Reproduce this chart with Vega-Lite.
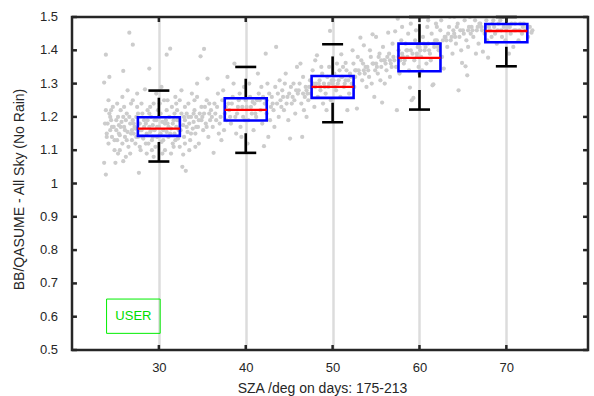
{
  "$schema": "https://vega.github.io/schema/vega-lite/v6.json",
  "width": 526,
  "height": 333,
  "autosize": {"type": "none"},
  "padding": {"left": 67, "top": 17, "right": 1, "bottom": 46},
  "config": {
    "view": {"stroke": null},
    "font": "Liberation Sans",
    "axis": {
      "labelFont": "Liberation Sans", "titleFont": "Liberation Sans",
      "labelFontSize": 13, "titleFontSize": 14, "titleFontWeight": "normal",
      "labelColor": "#262626", "titleColor": "#262626",
      "domain": false, "ticks": false, "tickSize": 0,
      "grid": false, "labelOverlap": false
    }
  },
  "datasets": {
    "xt": [{"v":30},{"v":40},{"v":50},{"v":60},{"v":70}],
    "yt": [{"v":0.5},{"v":0.6},{"v":0.7},{"v":0.8},{"v":0.9},{"v":1.0},{"v":1.1},{"v":1.2},{"v":1.3},{"v":1.4},{"v":1.5}],
    "pts": [
      {"sza":24.0,"r":1.15},{"sza":24.1,"r":1.18},{"sza":24.2,"r":1.12},{"sza":24.3,"r":1.21},{"sza":24.4,"r":1.16},{"sza":24.5,"r":1.19},{"sza":24.6,"r":1.14},{"sza":24.7,"r":1.23},{"sza":24.8,"r":1.17},{"sza":24.9,"r":1.10},{"sza":24.3,"r":1.32},{"sza":23.7,"r":1.303},{"sza":23.9,"r":1.387},{"sza":23.9,"r":1.027},{"sza":23.7,"r":1.062},{"sza":24.2,"r":1.25},
      {"sza":25.0,"r":1.062},{"sza":25.1,"r":1.16},{"sza":25.2,"r":1.13},{"sza":25.3,"r":1.20},{"sza":25.4,"r":1.175},{"sza":25.5,"r":1.145},{"sza":25.6,"r":1.22},{"sza":25.7,"r":1.185},{"sza":25.8,"r":1.12},{"sza":25.9,"r":1.338},{"sza":25.9,"r":1.067},{"sza":25.3,"r":1.09},{"sza":25.8,"r":1.26},
      {"sza":26.0,"r":1.17},{"sza":26.1,"r":1.14},{"sza":26.2,"r":1.19},{"sza":26.3,"r":1.21},{"sza":26.4,"r":1.155},{"sza":26.5,"r":1.11},{"sza":26.6,"r":1.453},{"sza":26.7,"r":1.18},{"sza":26.8,"r":1.24},{"sza":26.9,"r":1.13},{"sza":26.4,"r":1.28},{"sza":26.2,"r":1.08},{"sza":26.9,"r":1.16},
      {"sza":27.0,"r":1.417},{"sza":27.0,"r":1.19},{"sza":27.1,"r":1.15},{"sza":27.2,"r":1.17},{"sza":27.3,"r":1.12},{"sza":27.4,"r":1.20},{"sza":27.5,"r":1.23},{"sza":27.6,"r":1.14},{"sza":27.7,"r":1.032},{"sza":27.8,"r":1.18},{"sza":27.9,"r":1.10},{"sza":27.5,"r":1.27},{"sza":27.3,"r":1.165},
      {"sza":28.0,"r":1.16},{"sza":28.1,"r":1.21},{"sza":28.2,"r":1.135},{"sza":28.4,"r":1.283},{"sza":28.5,"r":1.18},{"sza":28.6,"r":1.15},{"sza":28.7,"r":1.22},{"sza":28.8,"r":1.12},{"sza":28.9,"r":1.345},{"sza":28.3,"r":1.19},{"sza":28.9,"r":1.17},{"sza":28.6,"r":1.09},
      {"sza":29.0,"r":1.155},{"sza":29.1,"r":1.20},{"sza":29.2,"r":1.13},{"sza":29.3,"r":1.175},{"sza":29.4,"r":1.24},{"sza":29.5,"r":1.16},{"sza":29.6,"r":1.11},{"sza":29.7,"r":1.19},{"sza":29.8,"r":1.14},{"sza":29.9,"r":1.22},{"sza":29.4,"r":1.08},{"sza":29.7,"r":1.27},
      {"sza":30.0,"r":1.17},{"sza":30.1,"r":1.145},{"sza":30.2,"r":1.21},{"sza":30.3,"r":1.125},{"sza":30.4,"r":1.185},{"sza":30.5,"r":1.16},{"sza":30.6,"r":1.25},{"sza":30.7,"r":1.10},{"sza":30.9,"r":1.387},{"sza":30.8,"r":1.19},{"sza":30.9,"r":1.155},{"sza":30.3,"r":1.29},
      {"sza":31.0,"r":1.18},{"sza":31.1,"r":1.14},{"sza":31.2,"r":1.20},{"sza":31.3,"r":1.405},{"sza":31.4,"r":1.165},{"sza":31.5,"r":1.23},{"sza":31.6,"r":1.12},{"sza":31.7,"r":1.19},{"sza":31.8,"r":1.15},{"sza":31.9,"r":1.26},{"sza":31.4,"r":1.09},{"sza":31.8,"r":1.21},
      {"sza":32.0,"r":1.17},{"sza":32.1,"r":1.22},{"sza":32.2,"r":1.135},{"sza":32.3,"r":1.19},{"sza":32.4,"r":1.25},{"sza":32.5,"r":1.16},{"sza":32.6,"r":1.28},{"sza":32.7,"r":1.05},{"sza":32.8,"r":1.087},{"sza":32.9,"r":1.20},{"sza":32.4,"r":1.11},{"sza":32.8,"r":1.175},
      {"sza":33.0,"r":1.19},{"sza":33.1,"r":1.038},{"sza":33.2,"r":1.21},{"sza":33.3,"r":1.155},{"sza":33.4,"r":1.24},{"sza":33.5,"r":1.18},{"sza":33.6,"r":1.13},{"sza":33.7,"r":1.20},{"sza":33.8,"r":1.27},{"sza":33.9,"r":1.165},{"sza":33.5,"r":1.10},
      {"sza":34.0,"r":1.185},{"sza":34.1,"r":1.22},{"sza":34.2,"r":1.15},{"sza":34.3,"r":1.20},{"sza":34.4,"r":1.26},{"sza":34.5,"r":1.17},{"sza":34.6,"r":1.12},{"sza":34.8,"r":1.382},{"sza":34.7,"r":1.21},{"sza":34.9,"r":1.19},{"sza":34.4,"r":1.30},
      {"sza":35.0,"r":1.20},{"sza":35.2,"r":1.404},{"sza":35.1,"r":1.16},{"sza":35.3,"r":1.23},{"sza":35.4,"r":1.18},{"sza":35.6,"r":1.315},{"sza":35.5,"r":1.25},{"sza":35.7,"r":1.14},{"sza":35.8,"r":1.21},{"sza":35.9,"r":1.19},
      {"sza":24.4,"r":1.20},{"sza":24.6,"r":1.17},{"sza":24.9,"r":1.13},{"sza":25.1,"r":1.19},{"sza":25.4,"r":1.15},{"sza":25.6,"r":1.17},{"sza":25.9,"r":1.20},{"sza":26.1,"r":1.16},{"sza":26.3,"r":1.13},{"sza":26.6,"r":1.20},{"sza":26.8,"r":1.15},{"sza":27.1,"r":1.18},{"sza":27.4,"r":1.14},{"sza":27.6,"r":1.21},{"sza":27.9,"r":1.16},{"sza":28.1,"r":1.14},{"sza":28.3,"r":1.17},{"sza":28.5,"r":1.12},{"sza":28.7,"r":1.19},{"sza":28.9,"r":1.21},{"sza":29.1,"r":1.16},{"sza":29.3,"r":1.14},{"sza":29.5,"r":1.19},{"sza":29.8,"r":1.17},{"sza":30.0,"r":1.20},{"sza":30.2,"r":1.15},{"sza":30.5,"r":1.13},{"sza":30.7,"r":1.18},{"sza":30.9,"r":1.22},{"sza":31.1,"r":1.17},{"sza":31.3,"r":1.15},{"sza":31.6,"r":1.18},{"sza":31.9,"r":1.13},{"sza":32.1,"r":1.19},{"sza":32.3,"r":1.16},{"sza":32.6,"r":1.21},{"sza":32.9,"r":1.14},{"sza":33.2,"r":1.17},{"sza":33.4,"r":1.20},{"sza":33.7,"r":1.15},{"sza":34.0,"r":1.21},{"sza":34.3,"r":1.17},{"sza":34.6,"r":1.19},{"sza":34.9,"r":1.23},{"sza":35.2,"r":1.21},{"sza":35.5,"r":1.17},{"sza":35.8,"r":1.24},
      {"sza":24.5,"r":1.22},{"sza":25.2,"r":1.24},{"sza":26.0,"r":1.23},{"sza":27.0,"r":1.25},{"sza":28.0,"r":1.24},{"sza":29.0,"r":1.23},{"sza":30.1,"r":1.24},{"sza":31.0,"r":1.25},{"sza":32.0,"r":1.24},{"sza":33.0,"r":1.23},{"sza":34.1,"r":1.25},{"sza":25.5,"r":1.10},{"sza":26.7,"r":1.09},{"sza":27.8,"r":1.11},{"sza":29.2,"r":1.10},{"sza":30.4,"r":1.09},{"sza":31.7,"r":1.11},{"sza":33.0,"r":1.12},{"sza":34.2,"r":1.11},{"sza":23.8,"r":1.18},{"sza":23.9,"r":1.22},{"sza":24.0,"r":1.14},
      {"sza":36.0,"r":1.22},{"sza":36.2,"r":1.17},{"sza":36.3,"r":1.092},{"sza":36.4,"r":1.24},{"sza":36.6,"r":1.19},{"sza":36.8,"r":1.27},{"sza":36.9,"r":1.15},{"sza":36.5,"r":1.21},
      {"sza":37.1,"r":1.20},{"sza":37.3,"r":1.25},{"sza":37.5,"r":1.16},{"sza":37.7,"r":1.23},{"sza":37.9,"r":1.32},{"sza":37.8,"r":1.19},{"sza":37.4,"r":1.28},{"sza":37.2,"r":1.13},
      {"sza":38.1,"r":1.22},{"sza":38.3,"r":1.18},{"sza":38.5,"r":1.26},{"sza":38.7,"r":1.36},{"sza":38.8,"r":1.20},{"sza":38.9,"r":1.15},{"sza":38.4,"r":1.24},{"sza":38.6,"r":1.30},
      {"sza":39.0,"r":1.21},{"sza":39.2,"r":1.25},{"sza":39.4,"r":1.17},{"sza":39.6,"r":1.23},{"sza":39.8,"r":1.29},{"sza":39.9,"r":1.19},{"sza":39.5,"r":1.14},{"sza":39.3,"r":1.27},
      {"sza":40.1,"r":1.23},{"sza":40.3,"r":1.19},{"sza":40.5,"r":1.26},{"sza":40.7,"r":1.21},{"sza":40.9,"r":1.16},{"sza":40.4,"r":1.30},{"sza":40.8,"r":1.245},{"sza":40.2,"r":1.12},
      {"sza":41.0,"r":1.24},{"sza":41.2,"r":1.20},{"sza":41.4,"r":1.33},{"sza":41.5,"r":1.27},{"sza":41.7,"r":1.22},{"sza":41.9,"r":1.18},{"sza":41.3,"r":1.25},{"sza":41.8,"r":1.29},
      {"sza":42.1,"r":1.112},{"sza":42.3,"r":1.39},{"sza":42.6,"r":1.14},{"sza":42.2,"r":1.24},{"sza":42.4,"r":1.21},{"sza":42.7,"r":1.27},{"sza":42.9,"r":1.23},{"sza":42.5,"r":1.30},{"sza":42.8,"r":1.19},
      {"sza":43.0,"r":1.26},{"sza":43.2,"r":1.22},{"sza":43.5,"r":1.41},{"sza":43.4,"r":1.29},{"sza":43.6,"r":1.24},{"sza":43.8,"r":1.20},{"sza":43.9,"r":1.31},{"sza":43.3,"r":1.17},
      {"sza":44.0,"r":1.25},{"sza":44.2,"r":1.28},{"sza":44.4,"r":1.22},{"sza":44.6,"r":1.33},{"sza":44.8,"r":1.26},{"sza":44.9,"r":1.19},{"sza":44.5,"r":1.30},{"sza":44.1,"r":1.23},
      {"sza":45.1,"r":1.135},{"sza":45.0,"r":1.27},{"sza":45.3,"r":1.24},{"sza":45.5,"r":1.30},{"sza":45.7,"r":1.21},{"sza":45.8,"r":1.28},{"sza":45.9,"r":1.35},{"sza":45.4,"r":1.26},
      {"sza":36.1,"r":1.20},{"sza":36.7,"r":1.23},{"sza":37.0,"r":1.18},{"sza":37.6,"r":1.21},{"sza":38.0,"r":1.24},{"sza":38.2,"r":1.20},{"sza":39.1,"r":1.23},{"sza":39.7,"r":1.20},{"sza":40.0,"r":1.25},{"sza":40.6,"r":1.23},{"sza":41.1,"r":1.21},{"sza":41.6,"r":1.25},{"sza":42.0,"r":1.26},{"sza":42.4,"r":1.25},{"sza":43.1,"r":1.24},{"sza":43.7,"r":1.27},{"sza":44.3,"r":1.26},{"sza":44.7,"r":1.24},{"sza":45.2,"r":1.29},{"sza":45.6,"r":1.25},
      {"sza":46.0,"r":1.27},{"sza":46.2,"r":1.30},{"sza":46.5,"r":1.14},{"sza":46.4,"r":1.24},{"sza":46.6,"r":1.32},{"sza":46.8,"r":1.26},{"sza":46.9,"r":1.29},{"sza":46.3,"r":1.36},{"sza":46.7,"r":1.22},
      {"sza":47.0,"r":1.28},{"sza":47.2,"r":1.25},{"sza":47.4,"r":1.31},{"sza":47.5,"r":1.27},{"sza":47.7,"r":1.34},{"sza":47.9,"r":1.23},{"sza":47.3,"r":1.29},{"sza":47.8,"r":1.30},
      {"sza":48.0,"r":1.29},{"sza":48.2,"r":1.385},{"sza":48.3,"r":1.26},{"sza":48.5,"r":1.31},{"sza":48.6,"r":1.28},{"sza":48.8,"r":1.33},{"sza":48.9,"r":1.24},{"sza":48.4,"r":1.30},{"sza":48.7,"r":1.35},
      {"sza":49.0,"r":1.30},{"sza":49.2,"r":1.27},{"sza":49.4,"r":1.32},{"sza":49.5,"r":1.29},{"sza":49.7,"r":1.458},{"sza":49.6,"r":1.35},{"sza":49.8,"r":1.25},{"sza":49.9,"r":1.31},{"sza":49.3,"r":1.22},
      {"sza":50.0,"r":1.30},{"sza":50.2,"r":1.33},{"sza":50.4,"r":1.28},{"sza":50.5,"r":1.36},{"sza":50.7,"r":1.31},{"sza":50.9,"r":1.26},{"sza":51.0,"r":1.388},{"sza":50.8,"r":1.34},{"sza":50.3,"r":1.29},
      {"sza":51.1,"r":1.32},{"sza":51.3,"r":1.29},{"sza":51.5,"r":1.362},{"sza":51.7,"r":1.22},{"sza":51.6,"r":1.34},{"sza":51.8,"r":1.31},{"sza":51.9,"r":1.27},{"sza":51.4,"r":1.30},{"sza":51.2,"r":1.35},
      {"sza":52.0,"r":1.33},{"sza":52.2,"r":1.30},{"sza":52.4,"r":1.36},{"sza":52.6,"r":1.32},{"sza":52.8,"r":1.225},{"sza":52.9,"r":1.38},{"sza":52.5,"r":1.29},{"sza":52.7,"r":1.34},{"sza":52.3,"r":1.40},
      {"sza":53.0,"r":1.34},{"sza":53.2,"r":1.438},{"sza":53.4,"r":1.31},{"sza":53.6,"r":1.415},{"sza":53.5,"r":1.36},{"sza":53.7,"r":1.33},{"sza":53.9,"r":1.29},{"sza":53.3,"r":1.37},{"sza":53.8,"r":1.35},
      {"sza":54.0,"r":1.35},{"sza":54.2,"r":1.32},{"sza":54.4,"r":1.38},{"sza":54.6,"r":1.448},{"sza":54.8,"r":1.26},{"sza":54.7,"r":1.36},{"sza":54.9,"r":1.34},{"sza":54.5,"r":1.30},{"sza":54.3,"r":1.40},
      {"sza":55.0,"r":1.36},{"sza":55.2,"r":1.33},{"sza":55.4,"r":1.39},{"sza":55.7,"r":1.243},{"sza":55.6,"r":1.35},{"sza":55.8,"r":1.41},{"sza":55.9,"r":1.37},{"sza":55.5,"r":1.31},{"sza":55.3,"r":1.38},
      {"sza":56.0,"r":1.37},{"sza":56.2,"r":1.34},{"sza":56.4,"r":1.453},{"sza":56.5,"r":1.39},{"sza":56.7,"r":1.36},{"sza":56.9,"r":1.42},{"sza":56.6,"r":1.32},{"sza":56.3,"r":1.38},{"sza":56.8,"r":1.35},
      {"sza":57.0,"r":1.38},{"sza":57.2,"r":1.457},{"sza":57.4,"r":1.22},{"sza":57.5,"r":1.495},{"sza":57.3,"r":1.35},{"sza":57.6,"r":1.40},{"sza":57.8,"r":1.37},{"sza":57.9,"r":1.43},{"sza":57.7,"r":1.33},
      {"sza":58.0,"r":1.39},{"sza":58.2,"r":1.36},{"sza":58.4,"r":1.42},{"sza":58.6,"r":1.38},{"sza":58.9,"r":1.288},{"sza":58.7,"r":1.45},{"sza":58.8,"r":1.34},{"sza":58.5,"r":1.40},{"sza":58.3,"r":1.37},
      {"sza":59.1,"r":1.25},{"sza":59.3,"r":1.257},{"sza":59.0,"r":1.40},{"sza":59.4,"r":1.37},{"sza":59.5,"r":1.43},{"sza":59.7,"r":1.39},{"sza":59.9,"r":1.35},{"sza":59.6,"r":1.46},{"sza":59.8,"r":1.41},
      {"sza":60.0,"r":1.41},{"sza":60.2,"r":1.38},{"sza":60.4,"r":1.44},{"sza":60.6,"r":1.40},{"sza":60.8,"r":1.36},{"sza":60.9,"r":1.47},{"sza":60.5,"r":1.42},{"sza":60.3,"r":1.34},
      {"sza":61.0,"r":1.42},{"sza":61.2,"r":1.39},{"sza":61.5,"r":1.295},{"sza":61.6,"r":1.298},{"sza":61.4,"r":1.45},{"sza":61.7,"r":1.41},{"sza":61.9,"r":1.48},{"sza":61.3,"r":1.37},{"sza":61.8,"r":1.43},
      {"sza":62.0,"r":1.43},{"sza":62.2,"r":1.40},{"sza":62.4,"r":1.46},{"sza":62.6,"r":1.38},{"sza":62.8,"r":1.345},{"sza":62.9,"r":1.44},{"sza":62.5,"r":1.49},{"sza":62.3,"r":1.42},
      {"sza":63.0,"r":1.44},{"sza":63.2,"r":1.41},{"sza":63.4,"r":1.47},{"sza":63.6,"r":1.43},{"sza":63.8,"r":1.39},{"sza":63.9,"r":1.46},{"sza":63.5,"r":1.50},{"sza":63.3,"r":1.45},
      {"sza":64.0,"r":1.45},{"sza":64.2,"r":1.42},{"sza":64.5,"r":1.28},{"sza":64.9,"r":1.362},{"sza":64.4,"r":1.48},{"sza":64.6,"r":1.44},{"sza":64.8,"r":1.40},{"sza":64.3,"r":1.47},
      {"sza":65.0,"r":1.46},{"sza":65.3,"r":1.352},{"sza":65.5,"r":1.325},{"sza":65.2,"r":1.49},{"sza":65.4,"r":1.43},{"sza":65.7,"r":1.47},{"sza":65.9,"r":1.45},{"sza":65.6,"r":1.41},{"sza":65.8,"r":1.50},
      {"sza":66.0,"r":1.47},{"sza":66.2,"r":1.44},{"sza":66.4,"r":1.49},{"sza":66.6,"r":1.46},{"sza":66.8,"r":1.42},{"sza":66.9,"r":1.48},{"sza":66.5,"r":1.39},
      {"sza":67.0,"r":1.48},{"sza":67.3,"r":1.396},{"sza":67.5,"r":1.45},{"sza":67.7,"r":1.49},{"sza":67.9,"r":1.378},{"sza":67.2,"r":1.46},{"sza":67.8,"r":1.43},
      {"sza":68.0,"r":1.47},{"sza":68.3,"r":1.44},{"sza":68.5,"r":1.49},{"sza":68.7,"r":1.45},{"sza":68.9,"r":1.42},{"sza":68.4,"r":1.48},
      {"sza":69.0,"r":1.46},{"sza":69.3,"r":1.49},{"sza":69.5,"r":1.44},{"sza":69.7,"r":1.47},{"sza":69.9,"r":1.43},{"sza":69.6,"r":1.50},
      {"sza":70.1,"r":1.47},{"sza":70.3,"r":1.39},{"sza":70.5,"r":1.45},{"sza":70.8,"r":1.41},{"sza":70.6,"r":1.48},{"sza":70.9,"r":1.46},
      {"sza":71.1,"r":1.46},{"sza":71.4,"r":1.43},{"sza":71.6,"r":1.48},{"sza":71.8,"r":1.45},{"sza":71.9,"r":1.47},
      {"sza":72.2,"r":1.46},{"sza":72.5,"r":1.44},{"sza":72.9,"r":1.453},{"sza":72.7,"r":1.47},
      {"sza":46.1,"r":1.28},{"sza":46.6,"r":1.27},{"sza":47.1,"r":1.27},{"sza":47.6,"r":1.29},{"sza":48.1,"r":1.30},{"sza":48.6,"r":1.29},{"sza":49.1,"r":1.29},{"sza":49.6,"r":1.30},{"sza":50.1,"r":1.31},{"sza":50.6,"r":1.30},{"sza":51.0,"r":1.32},{"sza":51.5,"r":1.31},{"sza":52.1,"r":1.32},{"sza":52.6,"r":1.34},{"sza":53.1,"r":1.33},{"sza":53.6,"r":1.34},{"sza":54.1,"r":1.34},{"sza":54.6,"r":1.36},{"sza":55.1,"r":1.35},{"sza":55.6,"r":1.37},{"sza":56.1,"r":1.36},{"sza":56.6,"r":1.37},{"sza":57.1,"r":1.37},{"sza":57.6,"r":1.38},{"sza":58.1,"r":1.38},{"sza":58.6,"r":1.40},{"sza":59.2,"r":1.39},{"sza":59.7,"r":1.38},{"sza":60.1,"r":1.40},{"sza":60.7,"r":1.41},{"sza":61.1,"r":1.40},{"sza":61.6,"r":1.42},{"sza":62.1,"r":1.41},{"sza":62.7,"r":1.43},{"sza":63.1,"r":1.43},{"sza":63.7,"r":1.44},{"sza":64.1,"r":1.44},{"sza":64.7,"r":1.46},{"sza":65.1,"r":1.45},{"sza":65.6,"r":1.46},{"sza":66.1,"r":1.46},{"sza":66.7,"r":1.47},{"sza":67.1,"r":1.47},{"sza":67.6,"r":1.47},{"sza":68.1,"r":1.46},{"sza":68.6,"r":1.47},{"sza":69.1,"r":1.48},{"sza":69.4,"r":1.46},{"sza":70.0,"r":1.46},{"sza":70.4,"r":1.47},{"sza":71.0,"r":1.48},{"sza":71.5,"r":1.46},{"sza":72.0,"r":1.48},{"sza":72.4,"r":1.47},{"sza":73.0,"r":1.46},
      {"sza":47.0,"r":1.20},{"sza":48.0,"r":1.37},{"sza":55.0,"r":1.44},{"sza":56.0,"r":1.30},{"sza":60.0,"r":1.33},{"sza":62.0,"r":1.47},{"sza":58.0,"r":1.47},{"sza":59.0,"r":1.48},{"sza":61.0,"r":1.49},{"sza":64.0,"r":1.50}
    ],
    "boxes": [
      {"sza":30,"q1":1.143,"q3":1.199,"med":1.165,"lo":1.066,"hi":1.279},
      {"sza":40,"q1":1.189,"q3":1.256,"med":1.221,"lo":1.092,"hi":1.350},
      {"sza":50,"q1":1.257,"q3":1.323,"med":1.290,"lo":1.184,"hi":1.418},
      {"sza":60,"q1":1.337,"q3":1.420,"med":1.377,"lo":1.222,"hi":1.500},
      {"sza":70,"q1":1.424,"q3":1.479,"med":1.458,"lo":1.352,"hi":1.500}
    ]
  },
  "layer": [
    {
      "data": {"name": "pts"},
      "mark": {"type": "circle", "size": 18, "color": "#cccccc", "opacity": 1, "clip": true},
      "encoding": {
        "x": {"field": "sza", "type": "quantitative", "scale": {"domain": [20, 79.4], "nice": false, "zero": false},
          "axis": {"values": [30, 40, 50, 60, 70], "format": "d", "grid": true, "gridColor": "#dcdcdc", "gridWidth": 2.5, "labelOverlap": false,
            "labelPadding": 11, "title": "SZA /deg on days: 175-213", "titleX": 255, "titleY": 31, "titleAlign": "center", "titleBaseline": "top"}},
        "y": {"field": "r", "type": "quantitative", "scale": {"domain": [0.5, 1.5], "nice": false, "zero": false},
          "axis": {"values": [0.5, 0.6, 0.7, 0.8, 0.9, 1, 1.1, 1.2, 1.3, 1.4, 1.5], "labels": false,
            "title": "BB/QASUME - All Sky (No Rain)", "titleX": -41, "titleY": 172, "titleAlign": "center", "titleBaseline": "bottom"}}
      }
    },
    {
      "data": {"name": "boxes"},
      "mark": {"type": "rule", "color": "#000000", "strokeWidth": 2.6, "strokeDash": [19.5, 12.5], "clip": true},
      "encoding": {
        "x": {"field": "sza", "type": "quantitative"},
        "y": {"field": "lo", "type": "quantitative"},
        "y2": {"field": "q1"}
      }
    },
    {
      "data": {"name": "boxes"},
      "mark": {"type": "rule", "color": "#000000", "strokeWidth": 2.6, "strokeDash": [19.5, 12.5], "clip": true},
      "encoding": {
        "x": {"field": "sza", "type": "quantitative"},
        "y": {"field": "q3", "type": "quantitative"},
        "y2": {"field": "hi"}
      }
    },
    {
      "data": {"name": "boxes"},
      "mark": {"type": "bar", "width": 42, "fill": "#0000ff", "fillOpacity": 0, "stroke": "#0000ff", "strokeWidth": 2.6},
      "encoding": {
        "x": {"field": "sza", "type": "quantitative"},
        "y": {"field": "q1", "type": "quantitative"},
        "y2": {"field": "q3"}
      }
    },
    {
      "data": {"name": "boxes"},
      "mark": {"type": "tick", "orient": "horizontal", "size": 42, "thickness": 2.3, "color": "#ff0000", "opacity": 1},
      "encoding": {
        "x": {"field": "sza", "type": "quantitative"},
        "y": {"field": "med", "type": "quantitative"}
      }
    },
    {
      "data": {"name": "boxes"},
      "mark": {"type": "tick", "orient": "horizontal", "size": 21, "thickness": 2.6, "color": "#000000", "opacity": 1},
      "encoding": {
        "x": {"field": "sza", "type": "quantitative"},
        "y": {"field": "lo", "type": "quantitative"}
      }
    },
    {
      "data": {"name": "boxes"},
      "mark": {"type": "tick", "orient": "horizontal", "size": 21, "thickness": 2.6, "color": "#000000", "opacity": 1},
      "encoding": {
        "x": {"field": "sza", "type": "quantitative"},
        "y": {"field": "hi", "type": "quantitative"}
      }
    },
    {
      "data": {"values": [{}]},
      "mark": {"type": "rect", "fill": "#00ee00", "fillOpacity": 0, "stroke": "#00ee00", "strokeWidth": 1},
      "encoding": {
        "x": {"datum": 23.98, "type": "quantitative"},
        "x2": {"datum": 30.15},
        "y": {"datum": 0.653, "type": "quantitative"},
        "y2": {"datum": 0.55}
      }
    },
    {
      "data": {"values": [{}]},
      "mark": {"type": "text", "text": "USER", "font": "Liberation Sans", "fontSize": 13, "color": "#00dd00", "align": "center", "baseline": "middle"},
      "encoding": {
        "x": {"datum": 27.07, "type": "quantitative"},
        "y": {"datum": 0.6015, "type": "quantitative"}
      }
    },
    {
      "data": {"name": "yt"},
      "mark": {"type": "text", "font": "Liberation Sans", "fontSize": 13, "color": "#262626", "align": "right", "baseline": "middle", "dx": -14},
      "encoding": {
        "x": {"datum": 20, "type": "quantitative"},
        "y": {"field": "v", "type": "quantitative"},
        "text": {"field": "v", "type": "quantitative", "format": "~g"}
      }
    },
    {
      "data": {"name": "xt"},
      "mark": {"type": "rule", "color": "#262626", "strokeWidth": 2.5},
      "encoding": {
        "x": {"field": "v", "type": "quantitative"},
        "y": {"datum": 0.5, "type": "quantitative"},
        "y2": {"datum": 0.515}
      }
    },
    {
      "data": {"name": "xt"},
      "mark": {"type": "rule", "color": "#262626", "strokeWidth": 2.5},
      "encoding": {
        "x": {"field": "v", "type": "quantitative"},
        "y": {"datum": 1.5, "type": "quantitative"},
        "y2": {"datum": 1.485}
      }
    },
    {
      "data": {"name": "yt"},
      "mark": {"type": "rule", "color": "#262626", "strokeWidth": 2.5},
      "encoding": {
        "y": {"field": "v", "type": "quantitative"},
        "x": {"datum": 20, "type": "quantitative"},
        "x2": {"datum": 20.57}
      }
    },
    {
      "data": {"name": "yt"},
      "mark": {"type": "rule", "color": "#262626", "strokeWidth": 2.5},
      "encoding": {
        "y": {"field": "v", "type": "quantitative"},
        "x": {"datum": 79.4, "type": "quantitative"},
        "x2": {"datum": 78.83}
      }
    },
    {
      "data": {"values": [{}]},
      "mark": {"type": "rect", "fill": "#ffffff", "fillOpacity": 0, "stroke": "#262626", "strokeWidth": 2.5},
      "encoding": {
        "x": {"datum": 20, "type": "quantitative"},
        "x2": {"datum": 79.4},
        "y": {"datum": 0.5, "type": "quantitative"},
        "y2": {"datum": 1.5}
      }
    }
  ]
}
